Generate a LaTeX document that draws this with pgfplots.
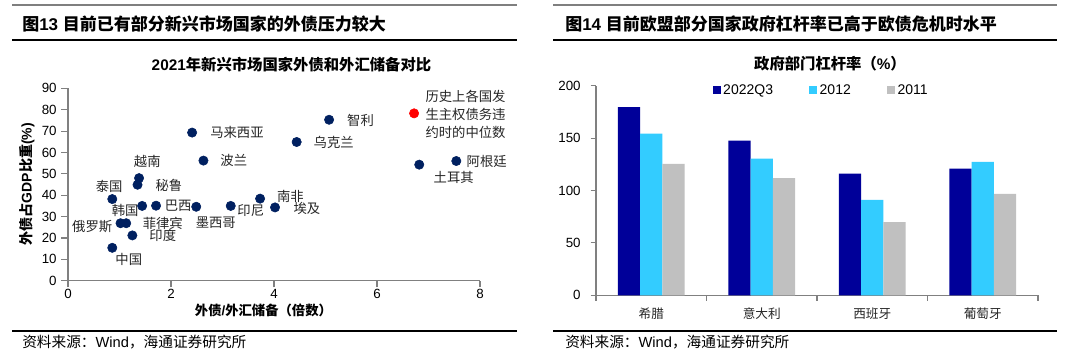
\documentclass[border=0pt]{standalone}
\usepackage{fontspec}
\usepackage{pgfplots}
\pgfplotsset{compat=1.18}
\setmainfont{Liberation Sans}
\newfontfamily\cjk{Noto Sans CJK SC}
\newcommand\zh[1]{{\cjk #1}}
\definecolor{navy}{HTML}{002060}
\definecolor{cA}{HTML}{000099}
\definecolor{cB}{HTML}{33CCFF}
\definecolor{cC}{HTML}{C0C0C0}
\definecolor{axgray}{HTML}{808080}
\definecolor{topgray}{HTML}{7F7F7F}
\newcommand\lab[3]{\node[font=\cjk\fontsize{10}{12}\selectfont, inner sep=0pt, text=black!85] at (axis cs:#1,#2) {#3};}
\begin{document}
\begin{tikzpicture}[x=1pt,y=1pt]
\useasboundingbox (0,0) rectangle (810,269.25);
\fill[white] (0,0) rectangle (810,269.25);
% frame lines
\foreach \xa/\xb in {9/387.75, 414.75/792.75}{
  \draw[topgray, line width=1.5pt] (\xa,265.5) -- (\xb,265.5);
  \draw[black, line width=0.8pt] (\xa,239.25) -- (\xb,239.25);
  \draw[black, line width=0.8pt] (\xa,21) -- (\xb,21);
}
% headers
\node[anchor=west, inner sep=0pt, font=\fontsize{12.75}{15}\selectfont\bfseries] at (16.5,251.25) {\zh{图}13 \zh{目前已有部分新兴市场国家的外债压力较大}};
\node[anchor=west, inner sep=0pt, font=\fontsize{12.75}{15}\selectfont\bfseries] at (423.75,251.25) {\zh{图}14 \zh{目前欧盟部分国家政府杠杆率已高于欧债危机时水平}};
% sources
\node[anchor=west, inner sep=0pt, font=\fontsize{11}{13}\selectfont] at (16.5,12.75) {\zh{资料来源：}Wind\zh{，海通证券研究所}};
\node[anchor=west, inner sep=0pt, font=\fontsize{11}{13}\selectfont] at (423.75,12.75) {\zh{资料来源：}Wind\zh{，海通证券研究所}};
% chart titles
\node[inner sep=0pt, font=\fontsize{11.5}{13}\selectfont\bfseries] at (218.6,220.5) {2021\zh{年新兴市场国家外债和外汇储备对比}};
\node[inner sep=0pt, font=\fontsize{11.5}{13}\selectfont\bfseries] at (622.5,221.75) {\zh{政府部门杠杆率（}\%\zh{）}};
% axis labels left
\node[inner sep=0pt, font=\fontsize{10.5}{12}\selectfont\bfseries, rotate=90] at (20.25,131.25) {\zh{外债占}GDP\zh{比重}(\%)};
\node[inner sep=0pt, font=\fontsize{10}{12}\selectfont\bfseries] at (197.6,36.8) {\zh{外债}/\zh{外汇储备（倍数）}};

\begin{axis}[
  at={(51pt,58.7pt)}, anchor=south west,
  scale only axis, width=309pt, height=144.3pt,
  xmin=0, xmax=8, ymin=0, ymax=90,
  axis x line*=bottom, axis y line*=left,
  axis line style={-, axgray, line width=0.8pt},
  every non boxed x axis/.append style={x axis line style=-},
  every non boxed y axis/.append style={y axis line style=-},
  xtick={0,2,4,6,8}, ytick={0,10,...,90},
  tick align=outside, major tick length=5pt,
  tick style={axgray, line width=0.8pt},
  ticklabel style={font=\fontsize{10}{12}\selectfont, text=black},
  xticklabel style={inner sep=1pt},
  /pgf/number format/assume math mode=true,
  clip=false,
]
\addplot[only marks, mark=*, mark size=3.5pt, mark options={fill=navy, draw=navy}] table {
x y
2.41 69.3
2.63 56.2
1.38 48.0
1.35 44.9
0.86 38.2
1.44 35.0
1.71 35.1
2.49 34.6
3.16 35.0
3.73 38.4
4.02 34.3
1.02 26.9
1.13 26.9
1.25 21.2
0.86 15.4
5.07 75.3
4.44 64.9
7.54 56.0
6.82 54.3
};
\addplot[only marks, mark=*, mark size=3.5pt, mark options={fill=red, draw=red}] coordinates {(6.72,78.3)};
\lab{3.28}{69.3}{马来西亚}
\lab{3.22}{56.1}{波兰}
\lab{1.54}{55.7}{越南}
\lab{1.96}{44.8}{秘鲁}
\lab{0.80}{44.0}{泰国}
\lab{2.14}{34.9}{巴西}
\lab{1.11}{32.7}{韩国}
\lab{0.47}{25.3}{俄罗斯}
\lab{1.84}{26.8}{菲律宾}
\lab{1.84}{21.0}{印度}
\lab{2.87}{27.1}{墨西哥}
\lab{3.55}{32.7}{印尼}
\lab{1.18}{10.0}{中国}
\lab{4.32}{39.3}{南非}
\lab{4.64}{33.9}{埃及}
\lab{5.68}{75.2}{智利}
\lab{5.16}{64.7}{乌克兰}
\lab{8.13}{56.0}{阿根廷}
\lab{7.49}{48.4}{土耳其}
\node[font=\cjk\fontsize{10}{13.4}\selectfont, inner sep=0pt, align=left, text=black!85] at (axis cs:7.72,77.9) {历史上各国发\\生主权债务违\\约时的中位数};
\end{axis}

\begin{axis}[
  at={(447pt,47.8pt)}, anchor=south west,
  scale only axis, width=331.5pt, height=157pt,
  xmin=-0.5, xmax=3.5, ymin=0, ymax=200,
  ybar=0pt, bar width=16.7pt,
  axis x line*=bottom, axis y line*=left,
  axis line style={-, axgray, line width=0.8pt},
  every non boxed x axis/.append style={x axis line style=-},
  every non boxed y axis/.append style={y axis line style=-},
  xtick={0,1,2,3},
  xticklabels={希腊,意大利,西班牙,葡萄牙},
  xticklabel style={font=\cjk\fontsize{9.5}{11}\selectfont, text=black!85, yshift=-2pt},
  minor xtick={-0.5,0.5,1.5,2.5,3.5},
  major x tick style={draw=none},
  minor tick length=4pt,
  ytick={0,50,...,200},
  tick align=outside, major tick length=4pt,
  tick style={axgray, line width=0.8pt},
  yticklabel style={font=\fontsize{10}{12}\selectfont, text=black, xshift=-4pt},
  /pgf/number format/assume math mode=true,
  legend columns=3,
  legend style={draw=none, fill=none, at={(0.51,0.98)}, anchor=center,
    font=\fontsize{10.5}{12}\selectfont,
    /tikz/every even column/.append style={column sep=25pt},
    /tikz/every odd column/.append style={column sep=0pt}},
  clip=false,
]
\addplot[fill=cA, draw=none, legend image code/.code={\fill[cA] (0pt,-3pt) rectangle (6pt,3pt);}] coordinates {(0,179.7) (1,147.8) (2,116.3) (3,121.0)};
\addplot[fill=cB, draw=none, legend image code/.code={\fill[cB] (0pt,-3pt) rectangle (6pt,3pt);}] coordinates {(0,154.5) (1,130.6) (2,91.1) (3,127.4)};
\addplot[fill=cC, draw=none, legend image code/.code={\fill[cC] (0pt,-3pt) rectangle (6pt,3pt);}] coordinates {(0,125.5) (1,111.9) (2,69.8) (3,96.8)};
\legend{2022Q3,2012,2011}
\end{axis}
\end{tikzpicture}
\end{document}
